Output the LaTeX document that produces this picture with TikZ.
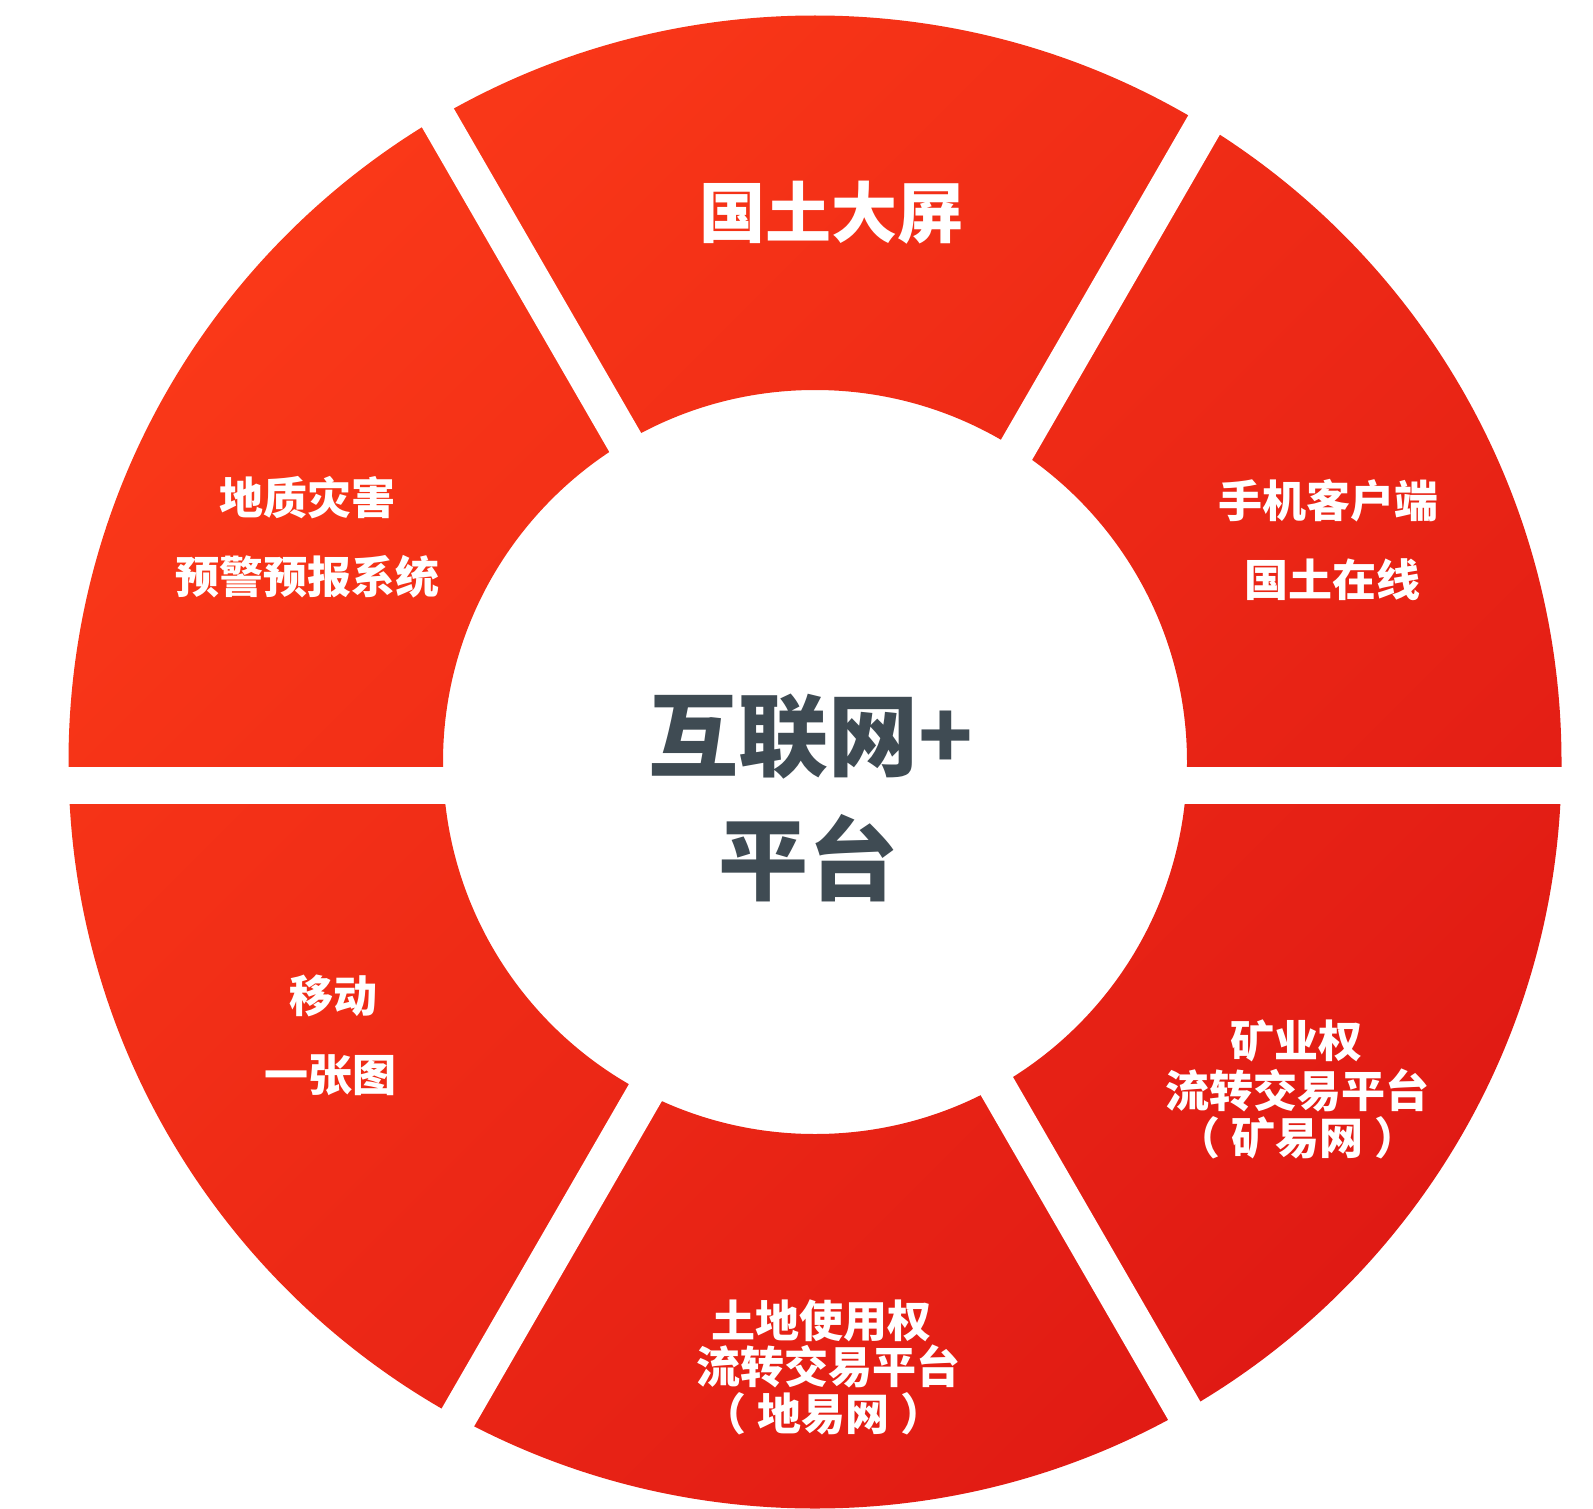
\documentclass[tikz,border=0pt]{standalone}
\usepackage{fontspec}
\newfontfamily\cjk{Noto Sans CJK SC}
\definecolor{ringA}{HTML}{FA3818}
\definecolor{ringB}{HTML}{E01A14}
\definecolor{hub}{HTML}{3F4B53}
\begin{document}
\begin{tikzpicture}[x=1pt,y=-1pt,
  seglbl/.style={text=white, inner sep=0pt, font=\cjk\bfseries\fontsize{44}{46}\selectfont},
  biglbl/.style={text=white, inner sep=0pt, font=\cjk\bfseries\fontsize{66}{70}\selectfont},
  hublbl/.style={text=hub, inner sep=0pt, font=\cjk\bfseries\fontsize{90}{94}\selectfont}]
\useasboundingbox (0,0) rectangle (1593,1509);
\fill[white] (0,0) rectangle (1593,1509);
% ring
\shade[top color=ringA, bottom color=ringB, shading angle=45, even odd rule]
  (815,762) circle (746.5pt) (815,762) circle (372pt);
% gaps
\fill[white] (-100,766.5) rectangle (1700,803.5);
\fill[white, rotate around={60:(823,785)}] (-77,766.5) rectangle (1723,803.5);
\fill[white, rotate around={-60:(823,785)}] (-77,766.5) rectangle (1723,803.5);
% labels
\node[biglbl] (top) at (831,213) {国土大屏};
\node[seglbl] (tl1) at (307,498) {地质灾害};
\node[seglbl] (tl2) at (307,577) {预警预报系统};
\node[seglbl] (tr1) at (1328,501) {手机客户端};
\node[seglbl] (tr2) at (1332,580) {国土在线};
\node[seglbl] (bl1) at (333,996) {移动};
\node[seglbl] (bl2) at (330,1075) {一张图};
\node[seglbl] (br1) at (1296,1041) {矿业权};
\node[seglbl] (br2) at (1297,1090) {流转交易平台};
\node[seglbl] (br3) at (1297,1138) {（\hspace{11pt}矿易网\hspace{11pt}）};
\node[seglbl] (b1) at (821,1321) {土地使用权};
\node[seglbl] (b2) at (828,1366) {流转交易平台};
\node[seglbl] (b3) at (823,1414) {（\hspace{11pt}地易网\hspace{11pt}）};
\node[hublbl] (hub1) at (811,737) {互联网+};
\node[hublbl] (hub2) at (808,858) {平台};
\end{tikzpicture}
\end{document}
